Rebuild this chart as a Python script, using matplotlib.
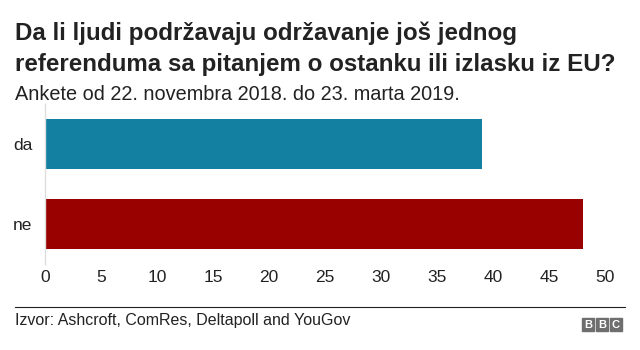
import matplotlib
matplotlib.use('Agg')
import matplotlib.pyplot as plt
from matplotlib.patches import Rectangle

plt.rcParams['font.family'] = ['Liberation Sans', 'DejaVu Sans']

categories = ['da', 'ne']
values = [39, 48]
colors = ['#1380A1', '#990000']
ticks = [0, 5, 10, 15, 20, 25, 30, 35, 40, 45, 50]

title = 'Da li ljudi podržavaju održavanje još jednog\nreferenduma sa pitanjem o ostanku ili izlasku iz EU?'
subtitle = 'Ankete od 22. novembra 2018. do 23. marta 2019.'
source = 'Izvor: Ashcroft, ComRes, Deltapoll and YouGov'

fig = plt.figure(figsize=(6.4, 3.5), dpi=100)
# bars: da 120-170, ne 201-250 px
ax = fig.add_axes([45 / 640, 1 - 264 / 350, 560 / 640, 160 / 350])

ypos = list(range(len(categories)))
ax.barh(ypos, values, height=0.63, color=colors)
ax.set_ylim(1.5, -0.5)
ax.set_xlim(0, 50)
ax.set_yticks(ypos)
ax.set_yticklabels(categories, fontsize=12.5, color='#222222')
ax.set_xticks(ticks)
ax.set_xticklabels([str(t) for t in ticks], fontsize=12.5, color='#222222')
ax.tick_params(axis='x', length=0, pad=4)
ax.tick_params(axis='y', length=0, pad=9)
for s in ['top', 'right', 'bottom']:
    ax.spines[s].set_visible(False)
ax.spines['left'].set_color('#dddddd')
ax.spines['left'].set_linewidth(1)

lines = title.split('\n')
fig.text(15 / 640, 1 - 33 / 350, lines[0], fontsize=17.4, fontweight='bold',
         va='center', ha='left', color='#222222')
fig.text(15 / 640, 1 - 65 / 350, lines[1], fontsize=17.4, fontweight='bold',
         va='center', ha='left', color='#222222')
fig.text(15 / 640, 1 - 95 / 350, subtitle, fontsize=14.3, va='center',
         ha='left', color='#222222')

# footer
fig.add_artist(plt.Line2D([15 / 640, 625 / 640], [1 - 307 / 350, 1 - 307 / 350],
                          color='#222222', linewidth=0.8))
fig.text(15 / 640, 1 - 321 / 350, source, fontsize=11.5, va='center',
         ha='left', color='#222222')
for i, ch in enumerate('BBC'):
    x0 = 582 + i * 14
    fig.add_artist(Rectangle((x0 / 640, 1 - 331 / 350), 12 / 640, 13 / 350,
                             transform=fig.transFigure, color='#6e6e6e'))
    fig.text((x0 + 6) / 640, 1 - 324.5 / 350, ch, fontsize=8, fontweight='bold',
             color='white', ha='center', va='center')

fig.savefig('out.png', dpi=100, facecolor='white')
